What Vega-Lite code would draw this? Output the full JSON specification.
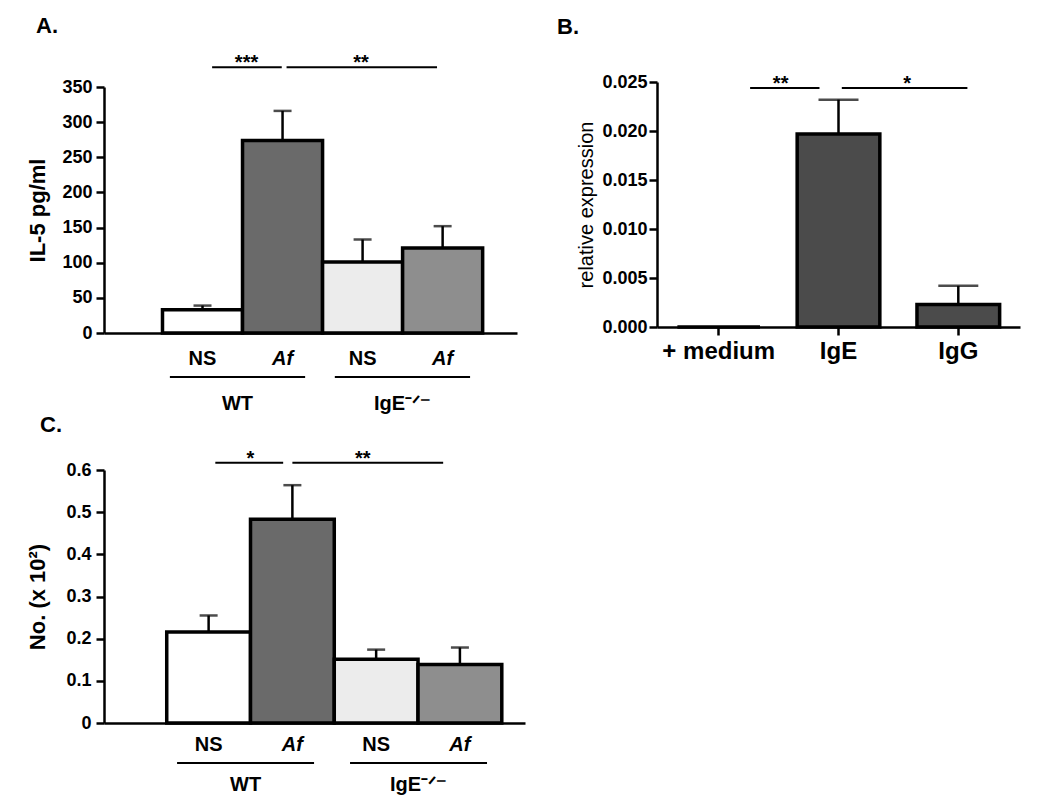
{
  "$schema": "https://vega.github.io/schema/vega-lite/v6.json",
  "padding": {"left": 26, "top": 15, "right": 5, "bottom": 5},
  "background": "white",
  "config": {
    "font": "Liberation Sans",
    "view": {"stroke": null},
    "axis": {"domainColor": "black", "domainWidth": 2.5, "tickColor": "black", "tickWidth": 2.5, "tickSize": 8, "labelColor": "black", "labelFont": "Liberation Sans", "labelFontWeight": "bold", "labelFontSize": 18, "labelOverlap": false, "titleColor": "black", "titleFont": "Liberation Sans", "titleFontWeight": "bold", "titleFontSize": 22, "grid": false},
    "title": {"fontSize": 22, "fontWeight": "bold", "anchor": "start", "frame": "group", "color": "black", "font": "Liberation Sans"}
  },
  "datasets": {
    "a": [
      {"group": "WT NS", "mean": 33, "upper": 39},
      {"group": "WT Af", "mean": 274, "upper": 316},
      {"group": "IgE NS", "mean": 101, "upper": 133},
      {"group": "IgE Af", "mean": 121, "upper": 152}
    ],
    "c": [
      {"group": "WT NS", "mean": 0.216, "upper": 0.255},
      {"group": "WT Af", "mean": 0.483, "upper": 0.564},
      {"group": "IgE NS", "mean": 0.151, "upper": 0.174},
      {"group": "IgE Af", "mean": 0.139, "upper": 0.179}
    ],
    "b": [
      {"stim": "+ medium", "mean": 0, "upper": 0},
      {"stim": "IgE", "mean": 0.0197, "upper": 0.0232},
      {"stim": "IgG", "mean": 0.0023, "upper": 0.0042}
    ],
    "sigA": [
      {"from": "WT NS", "to": "WT Af", "label": "***", "y": 378},
      {"from": "WT Af", "to": "IgE Af", "label": "**", "y": 378}
    ],
    "sigC": [
      {"from": "WT NS", "to": "WT Af", "label": "*", "y": 0.617},
      {"from": "WT Af", "to": "IgE Af", "label": "**", "y": 0.617}
    ],
    "sigB": [
      {"from": "+ medium", "to": "IgE", "label": "**", "y": 0.0244},
      {"from": "IgE", "to": "IgG", "label": "*", "y": 0.0244}
    ],
    "geno": [
      {"geno": "WT"},
      {"geno": "IgE⁻ᐟ⁻"}
    ]
  },
  "vconcat": [
    {
      "hconcat": [
        {
          "vconcat": [
            {
              "title": {"text": "A.", "dx": -68, "offset": 15},
              "width": 413,
              "height": 246,
              "layer": [
                {
                  "data": {"name": "a"},
                  "mark": {"type": "bar", "stroke": "black", "strokeWidth": 3.5},
                  "encoding": {
                    "x": {"field": "group", "type": "nominal", "scale": {"domain": ["WT NS", "WT Af", "IgE NS", "IgE Af"], "paddingInner": 0, "paddingOuter": 0.58, "align": 0.63},
                      "axis": {"title": null, "ticks": false, "labelAngle": 0, "labelFontSize": 20, "labelPadding": 15, "labelExpr": "split(datum.label, ' ')[1]",
                        "labelFontStyle": {"condition": {"test": "indexof(datum.value, 'Af') >= 0", "value": "italic"}, "value": "normal"}}},
                    "y": {"field": "mean", "type": "quantitative", "scale": {"domain": [0, 350], "nice": false}, "axis": {"title": "IL-5 pg/ml", "values": [0, 50, 100, 150, 200, 250, 300, 350], "labelOverlap": false, "titlePadding": 12, "labelPadding": 4}},
                    "color": {"field": "group", "type": "nominal", "scale": {"domain": ["WT NS", "WT Af", "IgE NS", "IgE Af"], "range": ["#ffffff", "#6a6a6a", "#ececec", "#8e8e8e"]}, "legend": null}
                  }
                },
                {
                  "data": {"name": "a"},
                  "mark": {"type": "rule", "strokeWidth": 2.5, "color": "black"},
                  "encoding": {"x": {"field": "group", "type": "nominal"}, "y": {"field": "mean", "type": "quantitative", "axis": {"title": "IL-5 pg/ml", "values": [0, 50, 100, 150, 200, 250, 300, 350], "labelOverlap": false, "titlePadding": 12, "labelPadding": 4}}, "y2": {"field": "upper"}}
                },
                {
                  "data": {"name": "a"},
                  "mark": {"type": "tick", "size": 18, "thickness": 2.5, "color": "black"},
                  "encoding": {"x": {"field": "group", "type": "nominal"}, "y": {"field": "upper", "type": "quantitative", "axis": {"title": "IL-5 pg/ml", "values": [0, 50, 100, 150, 200, 250, 300, 350], "labelOverlap": false, "titlePadding": 12, "labelPadding": 4}}}
                },
                {
                  "data": {"name": "sigA"},
                  "transform": [{"filter": "datum.from == 'WT NS'"}],
                  "layer": [
                    {"mark": {"type": "rule", "strokeWidth": 2, "color": "black"},
                     "encoding": {"x": {"field": "from", "type": "nominal", "bandPosition": 0.62}, "x2": {"field": "to", "bandPosition": 0.49}, "y": {"field": "y", "type": "quantitative", "axis": {"title": "IL-5 pg/ml", "values": [0, 50, 100, 150, 200, 250, 300, 350], "labelOverlap": false, "titlePadding": 12, "labelPadding": 4}}}},
                    {"mark": {"type": "text", "fontSize": 20, "fontWeight": "bold", "baseline": "alphabetic", "dy": 2, "color": "black"},
                     "encoding": {"x": {"field": "to", "type": "nominal", "bandPosition": 0.05}, "y": {"field": "y", "type": "quantitative", "axis": {"title": "IL-5 pg/ml", "values": [0, 50, 100, 150, 200, 250, 300, 350], "labelOverlap": false, "titlePadding": 12, "labelPadding": 4}}, "text": {"field": "label"}}}
                  ]
                },
                {
                  "data": {"name": "sigA"},
                  "transform": [{"filter": "datum.from == 'WT Af'"}],
                  "layer": [
                    {"mark": {"type": "rule", "strokeWidth": 2, "color": "black"},
                     "encoding": {"x": {"field": "from", "type": "nominal", "bandPosition": 0.55}, "x2": {"field": "to", "bandPosition": 0.43}, "y": {"field": "y", "type": "quantitative", "axis": {"title": "IL-5 pg/ml", "values": [0, 50, 100, 150, 200, 250, 300, 350], "labelOverlap": false, "titlePadding": 12, "labelPadding": 4}}}},
                    {"mark": {"type": "text", "fontSize": 20, "fontWeight": "bold", "baseline": "alphabetic", "dy": 2, "color": "black"},
                     "encoding": {"x": {"datum": "IgE NS", "type": "nominal", "bandPosition": 0.48}, "y": {"field": "y", "type": "quantitative", "axis": {"title": "IL-5 pg/ml", "values": [0, 50, 100, 150, 200, 250, 300, 350], "labelOverlap": false, "titlePadding": 12, "labelPadding": 4}}, "text": {"field": "label"}}}
                  ]
                }
              ]
            },
            {
              "data": {"name": "geno"},
              "width": 413,
              "height": 2,
              "mark": {"type": "bar", "color": "black"},
              "encoding": {
                "x": {"field": "geno", "type": "nominal", "sort": null, "scale": {"paddingInner": 0.18, "paddingOuter": 0.342, "align": 0.584},
                  "axis": {"title": null, "domain": false, "ticks": false, "labelAngle": 0, "labelFontSize": 20, "labelPadding": 15}}
              }
            }
          ],
          "spacing": 43,
          "bounds": "flush"
        },
        {
          "title": {"text": "B.", "dx": -100, "offset": 34},
          "width": 363,
          "height": 240,
          "layer": [
            {
              "data": {"name": "b"},
              "mark": {"type": "bar", "stroke": "black", "strokeWidth": 3.5, "color": "#4b4b4b"},
              "encoding": {
                "x": {"field": "stim", "type": "nominal", "sort": null, "scale": {"domain": ["+ medium", "IgE", "IgG"], "paddingInner": 0.31, "paddingOuter": 0.17},
                  "axis": {"title": null, "labelAngle": 0, "labelFontSize": 24, "labelPadding": 4}},
                "y": {"field": "mean", "type": "quantitative", "scale": {"domain": [0, 0.025], "nice": false, "range": [240, -5]}, "axis": {"title": "relative expression", "titleFontWeight": "normal", "titleFontSize": 20, "values": [0, 0.005, 0.01, 0.015, 0.02, 0.025], "labelOverlap": false, "format": ".3f", "titlePadding": 5, "labelPadding": 2}}
              }
            },
            {
              "data": {"name": "b"},
              "transform": [{"filter": "datum.upper > 0"}],
              "mark": {"type": "rule", "strokeWidth": 2.5, "color": "black"},
              "encoding": {"x": {"field": "stim", "type": "nominal"}, "y": {"field": "mean", "type": "quantitative"}, "y2": {"field": "upper"}}
            },
            {
              "data": {"name": "b"},
              "transform": [{"filter": "datum.upper > 0"}],
              "mark": {"type": "tick", "size": 40, "thickness": 2.5, "color": "black"},
              "encoding": {"x": {"field": "stim", "type": "nominal"}, "y": {"field": "upper", "type": "quantitative"}}
            },
            {
              "data": {"name": "sigB"},
              "transform": [{"filter": "datum.from == '+ medium'"}],
              "layer": [
                {"mark": {"type": "rule", "strokeWidth": 2, "color": "black"},
                 "encoding": {"x": {"field": "from", "type": "nominal", "bandPosition": 0.88}, "x2": {"field": "to", "bandPosition": 0.27}, "y": {"field": "y", "type": "quantitative"}}},
                {"mark": {"type": "text", "fontSize": 20, "fontWeight": "bold", "baseline": "alphabetic", "dy": 2, "color": "black"},
                 "encoding": {"x": {"field": "to", "type": "nominal", "bandPosition": -0.2}, "y": {"field": "y", "type": "quantitative"}, "text": {"field": "label"}}}
              ]
            },
            {
              "data": {"name": "sigB"},
              "transform": [{"filter": "datum.from == 'IgE'"}],
              "layer": [
                {"mark": {"type": "rule", "strokeWidth": 2, "color": "black"},
                 "encoding": {"x": {"field": "from", "type": "nominal", "bandPosition": 0.54}, "x2": {"field": "to", "bandPosition": 0.61}, "y": {"field": "y", "type": "quantitative"}}},
                {"mark": {"type": "text", "fontSize": 20, "fontWeight": "bold", "baseline": "alphabetic", "dy": 2, "color": "black"},
                 "encoding": {"x": {"field": "from", "type": "nominal", "bandPosition": 1.33}, "y": {"field": "y", "type": "quantitative"}, "text": {"field": "label"}}}
              ]
            }
          ]
        }
      ],
      "spacing": 40
    },
    {
      "vconcat": [
        {
          "title": {"text": "C.", "dx": -64, "offset": 12},
          "width": 421,
          "height": 253,
          "layer": [
            {
              "data": {"name": "c"},
              "mark": {"type": "bar", "stroke": "black", "strokeWidth": 3.5},
              "encoding": {
                "x": {"field": "group", "type": "nominal", "scale": {"domain": ["WT NS", "WT Af", "IgE NS", "IgE Af"], "paddingInner": 0, "paddingOuter": 0.513, "align": 0.73},
                  "axis": {"title": null, "ticks": false, "labelAngle": 0, "labelFontSize": 20, "labelPadding": 11, "labelExpr": "split(datum.label, ' ')[1]",
                    "labelFontStyle": {"condition": {"test": "indexof(datum.value, 'Af') >= 0", "value": "italic"}, "value": "normal"}}},
                "y": {"field": "mean", "type": "quantitative", "scale": {"domain": [0, 0.6], "nice": false}, "axis": {"title": "No. (x 10²)", "values": [0, 0.1, 0.2, 0.3, 0.4, 0.5, 0.6], "labelOverlap": false, "format": ".1~f", "titlePadding": 16, "labelPadding": 5}},
                "color": {"field": "group", "type": "nominal", "scale": {"domain": ["WT NS", "WT Af", "IgE NS", "IgE Af"], "range": ["#ffffff", "#6a6a6a", "#ececec", "#8e8e8e"]}, "legend": null}
              }
            },
            {
              "data": {"name": "c"},
              "mark": {"type": "rule", "strokeWidth": 2.5, "color": "black"},
              "encoding": {"x": {"field": "group", "type": "nominal"}, "y": {"field": "mean", "type": "quantitative"}, "y2": {"field": "upper"}}
            },
            {
              "data": {"name": "c"},
              "mark": {"type": "tick", "size": 18, "thickness": 2.5, "color": "black"},
              "encoding": {"x": {"field": "group", "type": "nominal"}, "y": {"field": "upper", "type": "quantitative"}}
            },
            {
              "data": {"name": "sigC"},
              "transform": [{"filter": "datum.from == 'WT NS'"}],
              "layer": [
                {"mark": {"type": "rule", "strokeWidth": 2, "color": "black"},
                 "encoding": {"x": {"field": "from", "type": "nominal", "bandPosition": 0.58}, "x2": {"field": "to", "bandPosition": 0.39}, "y": {"field": "y", "type": "quantitative"}}},
                {"mark": {"type": "text", "fontSize": 20, "fontWeight": "bold", "baseline": "alphabetic", "dy": 2, "color": "black"},
                 "encoding": {"x": {"field": "from", "type": "nominal", "bandPosition": 1.0}, "y": {"field": "y", "type": "quantitative"}, "text": {"field": "label"}}}
              ]
            },
            {
              "data": {"name": "sigC"},
              "transform": [{"filter": "datum.from == 'WT Af'"}],
              "layer": [
                {"mark": {"type": "rule", "strokeWidth": 2, "color": "black"},
                 "encoding": {"x": {"field": "from", "type": "nominal", "bandPosition": 0.5}, "x2": {"field": "to", "bandPosition": 0.3}, "y": {"field": "y", "type": "quantitative"}}},
                {"mark": {"type": "text", "fontSize": 20, "fontWeight": "bold", "baseline": "alphabetic", "dy": 2, "color": "black"},
                 "encoding": {"x": {"datum": "IgE NS", "type": "nominal", "bandPosition": 0.34}, "y": {"field": "y", "type": "quantitative"}, "text": {"field": "label"}}}
              ]
            }
          ]
        },
        {
          "data": {"name": "geno"},
          "width": 421,
          "height": 2,
          "mark": {"type": "bar", "color": "black"},
          "encoding": {
            "x": {"field": "geno", "type": "nominal", "sort": null, "scale": {"paddingInner": 0.208, "paddingOuter": 0.321, "align": 0.658},
              "axis": {"title": null, "domain": false, "ticks": false, "labelAngle": 0, "labelFontSize": 20, "labelPadding": 10}}
          }
        }
      ],
      "spacing": 39,
      "bounds": "flush"
    }
  ],
  "spacing": 0
}
